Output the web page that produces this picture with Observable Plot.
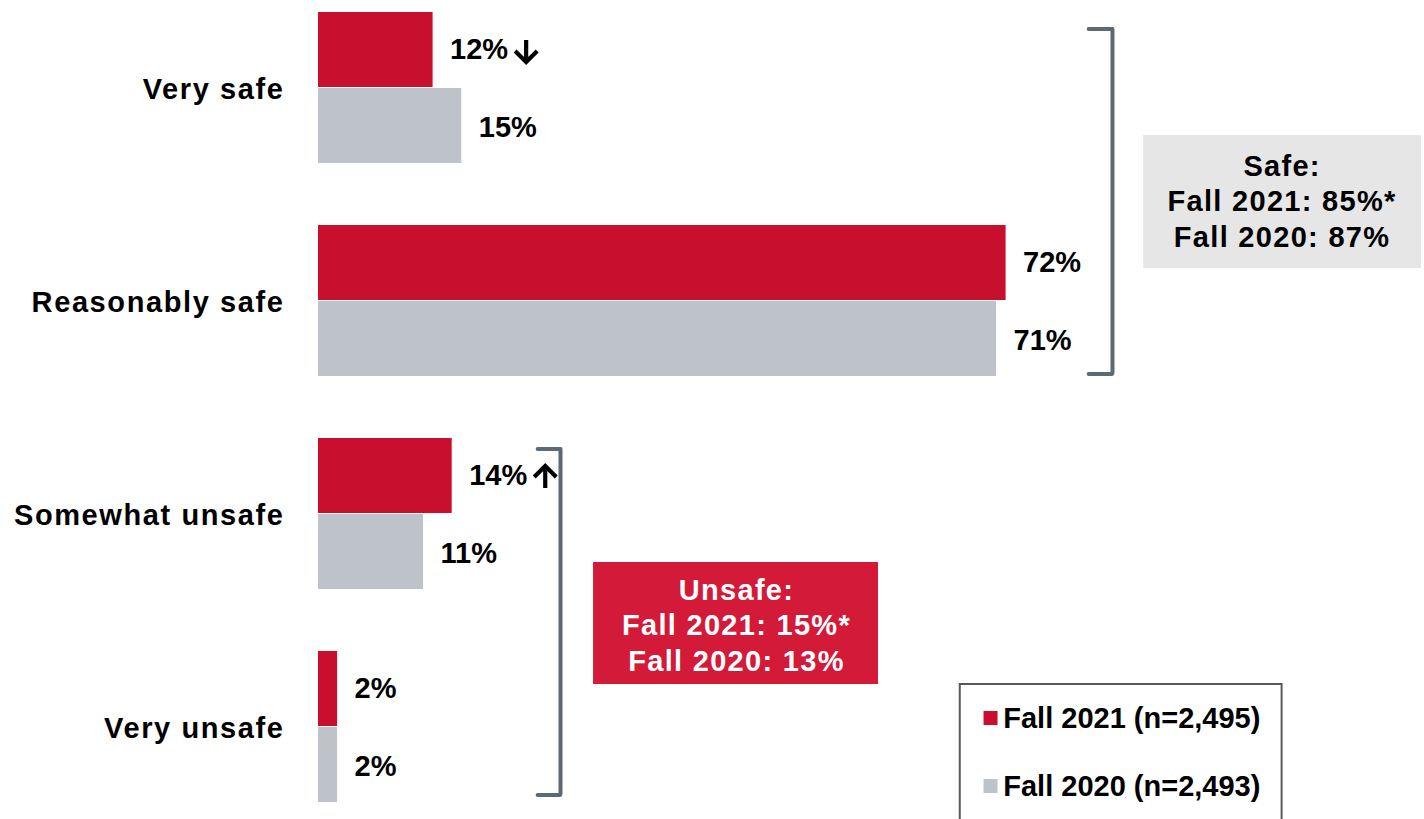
<!DOCTYPE html>
<html><head><meta charset="utf-8">
<script src="https://cdn.jsdelivr.net/npm/d3@7"></script>
<script src="https://cdn.jsdelivr.net/npm/@observablehq/plot@0.6"></script>
<style>
html,body{margin:0;padding:0;background:#fff;overflow:hidden} svg{display:block}
text[aria-label="category-label"] {letter-spacing:1.6px}
text[aria-label="summary"] {letter-spacing:1.3px}
</style>
</head><body><div id="chart"></div>
<script>
// ---- data ----
const categories = ["Very safe", "Reasonably safe", "Somewhat unsafe", "Very unsafe"];
const series = ["Fall 2021", "Fall 2020"];
const fall2021 = [12, 72, 14, 2];
const fall2020 = [15, 71, 11, 2];
const change2021 = ["down", "", "up", ""];
const legendLabels = ["Fall 2021 (n=2,495)", "Fall 2020 (n=2,493)"];
const safeSummary = ["Safe:", "Fall 2021: 85%*", "Fall 2020: 87%"];
const unsafeSummary = ["Unsafe:", "Fall 2021: 15%*", "Fall 2020: 13%"];

// ---- styles ----
const RED = "#c8102e", GREY = "#bdc3c8", BOXRED = "#d31a38", BOXGREY = "#e6e6e6", BRACKET = "#5d6973";
const FONT = "Arial, 'Liberation Sans', sans-serif";
const FS = 29;
const HALF = 76;

const rows2021 = categories.map((c, i) => ({category: c, value: fall2021[i], label: fall2021[i] + "%", change: change2021[i]}));
const rows2020 = categories.map((c, i) => ({category: c, value: fall2020[i], label: fall2020[i] + "%"}));
const colors = [RED, GREY];
const txt = {fontSize: FS, fontWeight: "bold", fontFamily: FONT};

// width of a two-digit label, to place the change arrows right after the text
const ctx = document.createElement("canvas").getContext("2d");
ctx.font = `bold ${FS}px ${FONT}`;
const arrowRows = rows2021.filter(d => d.change);
const labelW = ctx.measureText(arrowRows[0].label).width;
const LABEL_DX = 17;
const ARROW_LEN = 22, ARROW_WING = 11;
const arrowDx = LABEL_DX + labelW + 7 + ARROW_WING;

// bold arrow shape (pointing up before rotation)
const boldArrow = {
  draw(context, l) {
    context.moveTo(0, 0);
    context.lineTo(0, -l);
    context.moveTo(-ARROW_WING, -l + ARROW_WING);
    context.lineTo(0, -l);
    context.lineTo(ARROW_WING, -l + ARROW_WING);
  }
};

const chart = Plot.plot({
  width: 1424,
  height: 819,
  marginLeft: 318,
  marginRight: 151,
  marginTop: 10,
  marginBottom: 15,
  style: {background: "#fff", fontFamily: FONT, overflow: "visible"},
  x: {domain: [0, 100], axis: null},
  y: {domain: categories, paddingInner: 0.2897, paddingOuter: 0, axis: null},
  marks: [
    // summary boxes
    Plot.barX([categories[0]], {y: d => d, x1: 86.4, x2: 115.5, insetTop: 123, insetBottom: -105, fill: BOXGREY}),
    Plot.text([safeSummary.join("\n")], {x: 100.9, y: () => categories[0], dy: 112, text: d => d, fill: "#000", lineHeight: 1.22, ariaLabel: () => "summary", ...txt}),
    Plot.barX([categories[3]], {y: d => d, x1: 28.8, x2: 58.64, insetTop: -89, insetBottom: 118, fill: BOXRED}),
    Plot.text([unsafeSummary.join("\n")], {x: 43.77, y: () => categories[3], dy: -103, text: d => d, fill: "#fff", lineHeight: 1.22, ariaLabel: () => "summary", ...txt}),
    // bars
    Plot.barX(rows2021, {x: "value", y: "category", fill: RED, insetBottom: HALF}),
    Plot.barX(rows2020, {x: "value", y: "category", fill: GREY, insetTop: HALF}),
    // value labels
    Plot.text(rows2021, {x: "value", y: "category", text: "label", dx: LABEL_DX, dy: -HALF / 2, textAnchor: "start", fill: "#000", ...txt}),
    Plot.text(rows2020, {x: "value", y: "category", text: "label", dx: LABEL_DX, dy: HALF / 2 + 2, textAnchor: "start", fill: "#000", ...txt}),
    // significant-change arrows
    Plot.vector(arrowRows, {x: "value", y: "category", dx: arrowDx, dy: -HALF / 2 + 1, rotate: d => d.change === "down" ? 180 : 0, length: ARROW_LEN, anchor: "middle", shape: boldArrow, stroke: "#000", strokeWidth: 4.2, strokeLinecap: "butt", strokeLinejoin: "miter"}),
    // category labels
    Plot.text(categories, {x: 0, y: d => d, text: d => d, dx: -34, dy: 2, textAnchor: "end", fill: "#000", ariaLabel: () => "category-label", ...txt}),
    // brackets
    Plot.ruleX([{a: categories[0], b: categories[1]}], {x: 83.14, y1: "a", y2: "b", insetTop: 17, insetBottom: 3, stroke: BRACKET, strokeWidth: 4, strokeLinecap: "round"}),
    Plot.ruleY([categories[0]], {y: d => d, x1: 80.7, x2: 83.14, dy: -59, stroke: BRACKET, strokeWidth: 4, strokeLinecap: "round"}),
    Plot.ruleY([categories[1]], {y: d => d, x1: 80.7, x2: 83.14, dy: 73, stroke: BRACKET, strokeWidth: 4, strokeLinecap: "round"}),
    Plot.ruleX([{a: categories[2], b: categories[3]}], {x: 25.34, y1: "a", y2: "b", insetTop: 11, insetBottom: 8, stroke: BRACKET, strokeWidth: 4, strokeLinecap: "round"}),
    Plot.ruleY([categories[2]], {y: d => d, x1: 23.0, x2: 25.34, dy: -65, stroke: BRACKET, strokeWidth: 4, strokeLinecap: "round"}),
    Plot.ruleY([categories[3]], {y: d => d, x1: 23.0, x2: 25.34, dy: 68, stroke: BRACKET, strokeWidth: 4, strokeLinecap: "round"}),
    // legend
    Plot.barX([categories[3]], {y: d => d, x1: 67.2, x2: 100.9, insetTop: 33, insetBottom: -40, fill: "none", stroke: "#595959", strokeWidth: 2}),
    ...series.map((s, i) => Plot.dot([s], {x: 70.37, y: () => categories[3], dy: -9 + i * 68, symbol: "square", r: 7.9, fill: colors[i], stroke: "none"})),
    ...series.map((s, i) => Plot.text([legendLabels[i]], {x: 71.7, y: () => categories[3], dy: -8 + i * 68, text: d => d, textAnchor: "start", fill: "#000", ...txt}))
  ]
});
document.getElementById("chart").appendChild(chart);
</script>
</body></html>
